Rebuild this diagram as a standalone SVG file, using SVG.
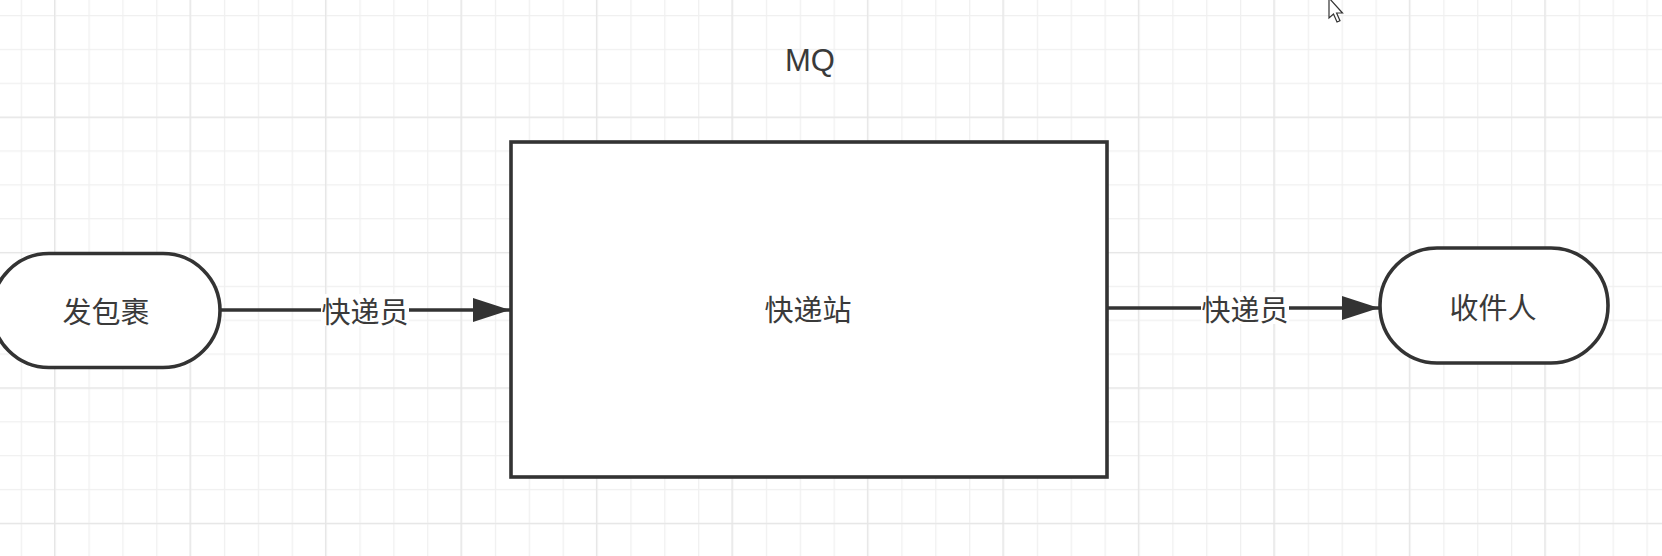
<svg xmlns="http://www.w3.org/2000/svg" width="1662" height="556" viewBox="0 0 1662 556">
<style>
.shape{fill:#ffffff;stroke:#333333;stroke-width:3.6}
.lbl{font-family:"Noto Sans CJK SC","Liberation Sans",sans-serif;font-size:29px;fill:#3a3a3a;text-anchor:middle;dominant-baseline:central}
.title{font-family:"Liberation Sans","Noto Sans CJK SC",sans-serif;font-size:31px;fill:#3a3a3a;text-anchor:middle}
.edge{stroke:#333333;stroke-width:3.4;fill:none}
.lblbg{fill:#ffffff}
</style>
<defs>
<pattern id="minor" patternUnits="userSpaceOnUse" x="20.7" y="15" width="33.87" height="33.85">
<path d="M0.5 0V33.85M0 0.5H33.87" stroke="#f0f0f0" stroke-width="1.5" fill="none"/>
</pattern>
<pattern id="major" patternUnits="userSpaceOnUse" x="54" y="116.7" width="135.48" height="135.4">
<path d="M0.5 0V135.4M0 0.5H135.48" stroke="#e6e6e6" stroke-width="1.5" fill="none"/>
</pattern>
<marker id="arrow" markerUnits="userSpaceOnUse" markerWidth="38" markerHeight="24" refX="37" refY="12" orient="auto">
<path d="M0 0L37 12L0 24Z" fill="#333333"/>
</marker>
</defs>
<rect width="1662" height="556" fill="#ffffff"/>
<rect width="1662" height="556" fill="url(#minor)"/>
<rect width="1662" height="556" fill="url(#major)"/>
<g id="title">
<text class="title" x="810" y="71">MQ</text>
</g>
<g id="connectors">
<line class="edge" x1="220" y1="310" x2="510" y2="310" marker-end="url(#arrow)"/>
<rect class="lblbg" x="321" y="294" width="88" height="32"/>
<text class="lbl" x="365" y="310">快递员</text>
<line class="edge" x1="1107" y1="308" x2="1379" y2="308" marker-end="url(#arrow)"/>
<rect class="lblbg" x="1201" y="292" width="88" height="32"/>
<text class="lbl" x="1245" y="308">快递员</text>
</g>
<g id="sender">
<rect class="shape" x="-8" y="253.5" width="228" height="114" rx="57" ry="57"/>
<text class="lbl" x="106" y="310">发包裹</text>
</g>
<g id="station">
<rect class="shape" x="511" y="142" width="596" height="335"/>
<text class="lbl" x="808" y="308">快递站</text>
</g>
<g id="receiver">
<rect class="shape" x="1380" y="248" width="228" height="115" rx="57" ry="57"/>
<text class="lbl" x="1493" y="306">收件人</text>
</g>
<g id="cursor">
<path d="M1329 -2L1329 18L1333.5 14L1337 22L1340 20.7L1336.6 13L1342.5 13Z" fill="#ffffff" stroke="#333333" stroke-width="1.2"/>
</g>
</svg>
